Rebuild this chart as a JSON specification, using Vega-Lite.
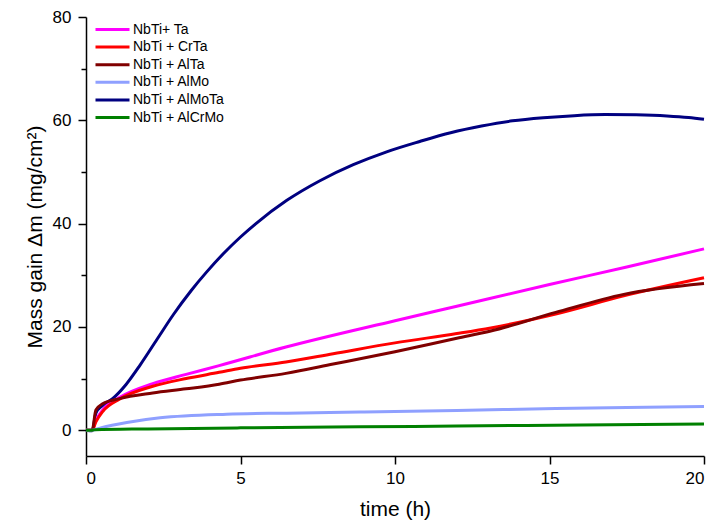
{
  "$schema": "https://vega.github.io/schema/vega-lite/v6.json",
  "width": 618,
  "height": 439,
  "autosize": "none",
  "padding": {"left": 86, "top": 17, "right": 9, "bottom": 68},
  "background": "white",
  "config": {
    "view": {"stroke": null},
    "font": "Liberation Sans",
    "axis": {"grid": false, "domainColor": "#000", "tickColor": "#000", "labelColor": "#000", "titleColor": "#000", "labelFont": "Liberation Sans", "titleFont": "Liberation Sans", "titleFontWeight": "normal", "domainWidth": 1.5, "tickWidth": 1.5}
  },
  "data": {"values": [
    {"s": "NbTi + AlMoTa", "t": 0, "v": 0},
    {"s": "NbTi + AlMoTa", "t": 0.2, "v": -0.1},
    {"s": "NbTi + AlMoTa", "t": 0.32, "v": 3.3},
    {"s": "NbTi + AlMoTa", "t": 0.54, "v": 4.8},
    {"s": "NbTi + AlMoTa", "t": 0.86, "v": 6.1},
    {"s": "NbTi + AlMoTa", "t": 1.29, "v": 8.8},
    {"s": "NbTi + AlMoTa", "t": 1.75, "v": 12.6},
    {"s": "NbTi + AlMoTa", "t": 2.3, "v": 17.6},
    {"s": "NbTi + AlMoTa", "t": 2.83, "v": 22.4},
    {"s": "NbTi + AlMoTa", "t": 3.4, "v": 27.0},
    {"s": "NbTi + AlMoTa", "t": 3.9, "v": 30.6},
    {"s": "NbTi + AlMoTa", "t": 4.45, "v": 34.2},
    {"s": "NbTi + AlMoTa", "t": 5.0, "v": 37.4},
    {"s": "NbTi + AlMoTa", "t": 5.5, "v": 40.0},
    {"s": "NbTi + AlMoTa", "t": 6.5, "v": 44.5},
    {"s": "NbTi + AlMoTa", "t": 7.57, "v": 48.3},
    {"s": "NbTi + AlMoTa", "t": 8.65, "v": 51.4},
    {"s": "NbTi + AlMoTa", "t": 9.73, "v": 53.9},
    {"s": "NbTi + AlMoTa", "t": 10.8, "v": 55.9},
    {"s": "NbTi + AlMoTa", "t": 11.8, "v": 57.6},
    {"s": "NbTi + AlMoTa", "t": 12.8, "v": 58.9},
    {"s": "NbTi + AlMoTa", "t": 13.8, "v": 59.9},
    {"s": "NbTi + AlMoTa", "t": 14.8, "v": 60.5},
    {"s": "NbTi + AlMoTa", "t": 15.8, "v": 60.9},
    {"s": "NbTi + AlMoTa", "t": 16.8, "v": 61.1},
    {"s": "NbTi + AlMoTa", "t": 17.8, "v": 61.05},
    {"s": "NbTi + AlMoTa", "t": 18.8, "v": 60.85},
    {"s": "NbTi + AlMoTa", "t": 19.5, "v": 60.55},
    {"s": "NbTi + AlMoTa", "t": 20, "v": 60.2},

    {"s": "NbTi+ Ta", "t": 0, "v": 0},
    {"s": "NbTi+ Ta", "t": 0.2, "v": 0},
    {"s": "NbTi+ Ta", "t": 0.32, "v": 1.9},
    {"s": "NbTi+ Ta", "t": 0.54, "v": 3.9},
    {"s": "NbTi+ Ta", "t": 1.08, "v": 6.3},
    {"s": "NbTi+ Ta", "t": 2.16, "v": 9.0},
    {"s": "NbTi+ Ta", "t": 3.24, "v": 10.8},
    {"s": "NbTi+ Ta", "t": 4.31, "v": 12.5},
    {"s": "NbTi+ Ta", "t": 6.47, "v": 16.1},
    {"s": "NbTi+ Ta", "t": 10.0, "v": 21.2},
    {"s": "NbTi+ Ta", "t": 12.0, "v": 24.0},
    {"s": "NbTi+ Ta", "t": 15.0, "v": 28.2},
    {"s": "NbTi+ Ta", "t": 17.5, "v": 31.6},
    {"s": "NbTi+ Ta", "t": 20, "v": 35.1},

    {"s": "NbTi + CrTa", "t": 0, "v": 0},
    {"s": "NbTi + CrTa", "t": 0.2, "v": 0},
    {"s": "NbTi + CrTa", "t": 0.32, "v": 1.6},
    {"s": "NbTi + CrTa", "t": 0.54, "v": 3.6},
    {"s": "NbTi + CrTa", "t": 1.08, "v": 6.0},
    {"s": "NbTi + CrTa", "t": 2.16, "v": 8.5},
    {"s": "NbTi + CrTa", "t": 3.24, "v": 10.0},
    {"s": "NbTi + CrTa", "t": 4.31, "v": 11.2},
    {"s": "NbTi + CrTa", "t": 5.0, "v": 12.0},
    {"s": "NbTi + CrTa", "t": 6.47, "v": 13.2},
    {"s": "NbTi + CrTa", "t": 8.0, "v": 14.8},
    {"s": "NbTi + CrTa", "t": 10.0, "v": 16.9},
    {"s": "NbTi + CrTa", "t": 12.0, "v": 18.7},
    {"s": "NbTi + CrTa", "t": 13.1, "v": 19.8},
    {"s": "NbTi + CrTa", "t": 15.2, "v": 22.5},
    {"s": "NbTi + CrTa", "t": 17.4, "v": 26.0},
    {"s": "NbTi + CrTa", "t": 20, "v": 29.5},

    {"s": "NbTi + AlTa", "t": 0, "v": 0},
    {"s": "NbTi + AlTa", "t": 0.2, "v": 0},
    {"s": "NbTi + AlTa", "t": 0.32, "v": 3.9},
    {"s": "NbTi + AlTa", "t": 0.54, "v": 5.1},
    {"s": "NbTi + AlTa", "t": 1.08, "v": 6.1},
    {"s": "NbTi + AlTa", "t": 2.16, "v": 7.2},
    {"s": "NbTi + AlTa", "t": 3.24, "v": 8.0},
    {"s": "NbTi + AlTa", "t": 4.31, "v": 8.9},
    {"s": "NbTi + AlTa", "t": 5.0, "v": 9.7},
    {"s": "NbTi + AlTa", "t": 6.47, "v": 11.0},
    {"s": "NbTi + AlTa", "t": 8.0, "v": 12.8},
    {"s": "NbTi + AlTa", "t": 10.0, "v": 15.2},
    {"s": "NbTi + AlTa", "t": 12.0, "v": 17.8},
    {"s": "NbTi + AlTa", "t": 13.1, "v": 19.2},
    {"s": "NbTi + AlTa", "t": 15.2, "v": 22.8},
    {"s": "NbTi + AlTa", "t": 17.4, "v": 26.3},
    {"s": "NbTi + AlTa", "t": 20, "v": 28.4},

    {"s": "NbTi + AlMo", "t": 0, "v": 0},
    {"s": "NbTi + AlMo", "t": 0.2, "v": 0},
    {"s": "NbTi + AlMo", "t": 0.5, "v": 0.5},
    {"s": "NbTi + AlMo", "t": 1.32, "v": 1.5},
    {"s": "NbTi + AlMo", "t": 2.4, "v": 2.4},
    {"s": "NbTi + AlMo", "t": 4.55, "v": 3.1},
    {"s": "NbTi + AlMo", "t": 6.5, "v": 3.3},
    {"s": "NbTi + AlMo", "t": 8.87, "v": 3.5},
    {"s": "NbTi + AlMo", "t": 10.0, "v": 3.6},
    {"s": "NbTi + AlMo", "t": 12.0, "v": 3.8},
    {"s": "NbTi + AlMo", "t": 15.2, "v": 4.2},
    {"s": "NbTi + AlMo", "t": 17.5, "v": 4.4},
    {"s": "NbTi + AlMo", "t": 20, "v": 4.6},

    {"s": "NbTi + AlCrMo", "t": 0, "v": 0},
    {"s": "NbTi + AlCrMo", "t": 0.2, "v": 0},
    {"s": "NbTi + AlCrMo", "t": 0.3, "v": 0.1},
    {"s": "NbTi + AlCrMo", "t": 2.0, "v": 0.25},
    {"s": "NbTi + AlCrMo", "t": 5.0, "v": 0.45},
    {"s": "NbTi + AlCrMo", "t": 8.87, "v": 0.65},
    {"s": "NbTi + AlCrMo", "t": 12.0, "v": 0.8},
    {"s": "NbTi + AlCrMo", "t": 16.0, "v": 1.0},
    {"s": "NbTi + AlCrMo", "t": 20, "v": 1.2}
  ]},
  "mark": {"type": "line", "strokeWidth": 3, "interpolate": "monotone"},
  "encoding": {
    "x": {"field": "t", "type": "quantitative", "scale": {"domain": [0, 20], "nice": false},
      "axis": {"title": "time (h)", "values": [0, 5, 10, 15, 20], "tickSize": 8, "labelPadding": 6, "labelFontSize": 17, "titleFontSize": 21, "titlePadding": 12}},
    "y": {"field": "v", "type": "quantitative", "scale": {"domain": [-5, 80], "nice": false, "zero": false},
      "axis": {"title": "Mass gain Δm (mg/cm²)", "values": [0, 10, 20, 30, 40, 50, 60, 70, 80],
        "labelExpr": "datum.value % 20 === 0 ? datum.label : ''",
        "tickSize": {"condition": {"test": "datum.value % 20 !== 0", "value": 5}, "value": 8},
        "labelPadding": 7, "labelFontSize": 17, "titleFontSize": 21, "titlePadding": 7}},
    "color": {"field": "s", "type": "nominal",
      "scale": {"domain": ["NbTi+ Ta", "NbTi + CrTa", "NbTi + AlTa", "NbTi + AlMo", "NbTi + AlMoTa", "NbTi + AlCrMo"],
                "range": ["#FF00FF", "#FF0000", "#800000", "#8FA0FF", "#000080", "#008000"]},
      "legend": {"title": null, "orient": "none", "legendX": 8, "legendY": 5, "symbolType": "stroke", "symbolSize": 1156, "symbolStrokeWidth": 3, "labelFontSize": 14, "labelColor": "#000", "labelOffset": 2, "rowPadding": 2.6, "clipHeight": 15, "padding": 0}
    }
  }
}
